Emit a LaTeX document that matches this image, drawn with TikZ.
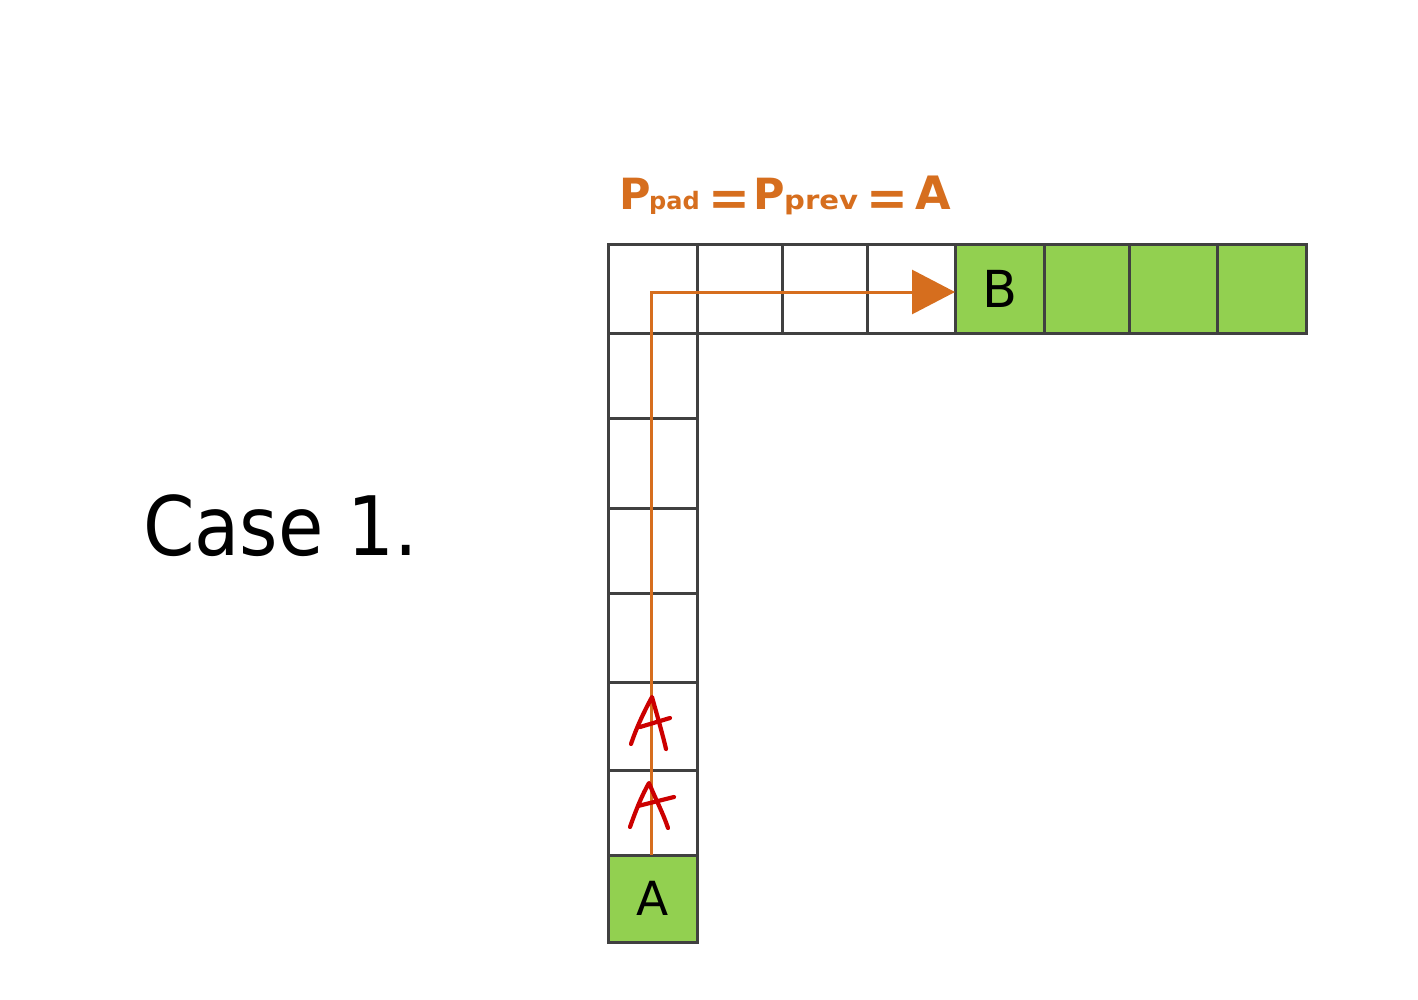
\documentclass[tikz,border=0pt]{standalone}
\usepackage{fontspec}
\setmainfont{DejaVu Sans}
\usetikzlibrary{arrows.meta}
\definecolor{gridgray}{RGB}{64,64,64}
\definecolor{cellgreen}{RGB}{146,208,80}
\definecolor{pathorange}{RGB}{214,110,30}
\definecolor{handred}{RGB}{204,0,0}
\tikzset{
  cell/.style={draw=gridgray, line width=3pt, rectangle, inner sep=0pt, outer sep=0pt},
  filled/.style={cell, fill=cellgreen},
  titletext/.style={text=pathorange, inner sep=0pt, font=\bfseries},
  handA/.style={draw=handred, line width=4.2pt, line cap=round, line join=round},
  route/.style={draw=pathorange, line width=3pt, -{Triangle[length=43pt,width=44pt]}}
}
\begin{document}
\begin{tikzpicture}[x=1pt,y=-1pt]
\useasboundingbox[fill=white] (0,0) rectangle (1418,1000);

% Case label
\node[anchor=base west, inner sep=0pt, xscale=0.9, transform shape, font=\fontsize{82}{82}\selectfont] (case) at (143,555) {Case 1.};

% top row cells
\node[cell, minimum width=89pt, minimum height=88pt] (t1) at (652.5,289) {};
\node[cell, minimum width=85pt, minimum height=88pt] (t2) at (739.5,289) {};
\node[cell, minimum width=85pt, minimum height=88pt] (t3) at (824.5,289) {};
\node[cell, minimum width=88pt, minimum height=88pt] (t4) at (911,289) {};
\node[filled, minimum width=89pt, minimum height=88pt, font=\fontsize{51}{51}\selectfont] (tB) at (999.5,289) {B};
\node[filled, minimum width=85pt, minimum height=88pt] (t6) at (1086.5,289) {};
\node[filled, minimum width=88pt, minimum height=88pt] (t7) at (1173,289) {};
\node[filled, minimum width=89pt, minimum height=88pt] (t8) at (1261.5,289) {};

% column cells
\node[cell, minimum width=89pt, minimum height=85pt] (c1) at (652.5,375.5) {};
\node[cell, minimum width=89pt, minimum height=90pt] (c2) at (652.5,463) {};
\node[cell, minimum width=89pt, minimum height=85pt] (c3) at (652.5,550.5) {};
\node[cell, minimum width=89pt, minimum height=89pt] (c4) at (652.5,637.5) {};
\node[cell, minimum width=89pt, minimum height=88pt] (c5) at (652.5,726) {};
\node[cell, minimum width=89pt, minimum height=85pt] (c6) at (652.5,812.5) {};
\node[filled, minimum width=89pt, minimum height=87pt, font=\fontsize{47}{47}\selectfont] (cA) at (652.5,898.5) {A};

% title
\node[titletext, anchor=base west, font=\bfseries\fontsize{43}{43}\selectfont] (p1) at (619,210) {P};
\node[titletext, anchor=base west, font=\bfseries\fontsize{24}{24}\selectfont] (s1) at (649,210) {pad};
\node[titletext, font=\bfseries\fontsize{50}{50}\selectfont] (eq1) at (729,203) {=};
\node[titletext, anchor=base west, font=\bfseries\fontsize{43}{43}\selectfont] (p2) at (753,210) {P};
\node[titletext, anchor=base west, xscale=1.12, transform shape, font=\bfseries\fontsize{26}{26}\selectfont] (s2) at (784,210) {prev};
\node[titletext, font=\bfseries\fontsize{50}{50}\selectfont] (eq2) at (887,203) {=};
\node[titletext, anchor=base, font=\bfseries\fontsize{46}{46}\selectfont] (pa) at (933,210) {A};

% route
\coordinate (turn) at (651,292);
\draw[route] (651,855) -- (turn) -- (tB.west |- turn);

% handwritten A's
\draw[handA] (631,744) .. controls (637,726) and (645,710) .. (652,697)
  .. controls (657,715) and (662,732) .. (666,749);
\draw[handA] (640,727) -- (670,718);
\draw[handA] (630,827) .. controls (636,810) and (642,795) .. (649,783)
  .. controls (656,800) and (663,813) .. (668,828);
\draw[handA] (638,806) -- (674,797);
\end{tikzpicture}
\end{document}
